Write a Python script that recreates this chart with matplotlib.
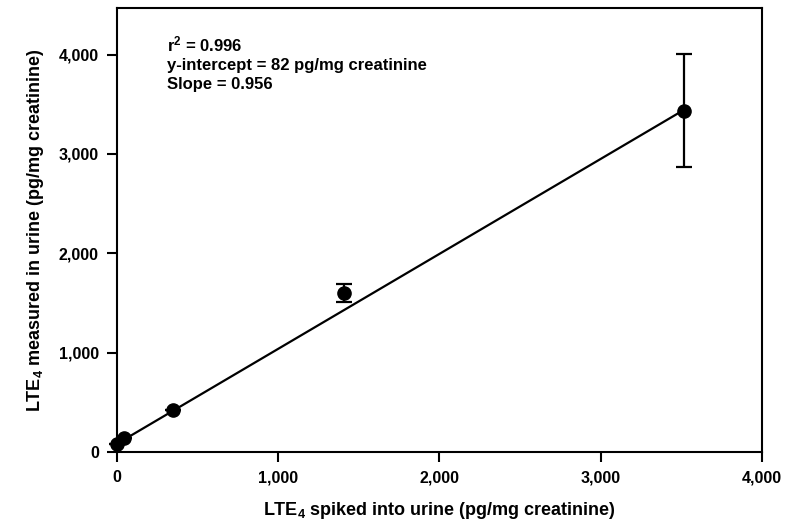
import matplotlib
matplotlib.use("Agg")
import matplotlib.pyplot as plt

plt.rcParams['font.family'] = ['Liberation Sans', 'DejaVu Sans']
plt.rcParams['font.weight'] = 'bold'
plt.rcParams['mathtext.fontset'] = 'custom'
plt.rcParams['mathtext.rm'] = 'Liberation Sans:bold'
plt.rcParams['mathtext.it'] = 'Liberation Sans:bold'
plt.rcParams['mathtext.bf'] = 'Liberation Sans:bold'

# data
spiked = [0, 45, 349, 1408, 3516]
measured = [85, 140, 423, 1599, 3436]
err = [0, 0, 0, 92, 565]

slope = 0.956
intercept = 82
fit_x = [0, 3530]

x_ticks = [0, 1000, 2000, 3000, 4000]
y_ticks = [0, 1000, 2000, 3000, 4000]


def draw():
    fig = plt.figure(figsize=(7.95, 5.26), dpi=100)
    ax = fig.add_axes([0.147, 0.1407, 0.8115, 0.8443])

    # fitted line
    fit_y = [intercept + slope * x for x in fit_x]
    ax.plot(fit_x, fit_y, color='black', lw=1.6, clip_on=False)

    # points with error bars
    ax.errorbar(spiked, measured, yerr=err, fmt='o', color='black',
                ms=9.5, capsize=5.5, elinewidth=1.6, capthick=1.6, clip_on=False)

    ax.set_xlim(0, 4000)
    ax.set_ylim(0, 4470)
    ax.set_xticks(x_ticks)
    ax.set_yticks(y_ticks)
    ax.set_xticklabels([f"{v:,}" for v in x_ticks])
    ax.set_yticklabels([f"{v:,}" for v in y_ticks])
    ax.tick_params(direction='out', length=7, width=1.5, labelsize=11.5, pad=6)
    for s in ax.spines.values():
        s.set_linewidth(1.5)

    ax.set_xlabel("LTE$_4$ spiked into urine (pg/mg creatinine)", fontsize=13,
                  fontweight='bold', labelpad=11)
    ax.set_ylabel("LTE$_4$ measured in urine (pg/mg creatinine)", fontsize=13,
                  fontweight='bold', labelpad=9)

    ax.text(0.078, 0.94, "r$^2$ = 0.996\ny-intercept = 82 pg/mg creatinine\nSlope = 0.956",
            transform=ax.transAxes, ha='left', va='top', fontsize=12,
            fontweight='bold', linespacing=1.3)

    fig.savefig("out.png", dpi=100)


if __name__ == '__main__':
    draw()
